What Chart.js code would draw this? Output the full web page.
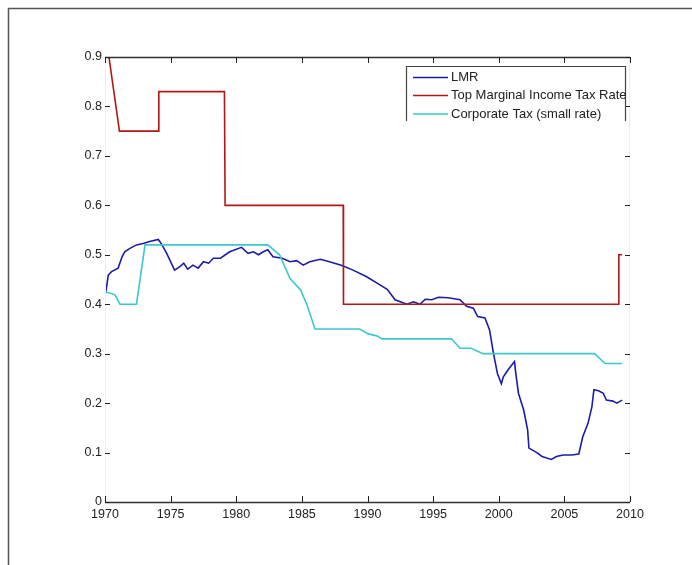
<!DOCTYPE html>
<html>
<head>
<meta charset="utf-8">
<script src="https://cdn.jsdelivr.net/npm/chart.js@4/dist/chart.umd.min.js"></script>
<style>
html,body{margin:0;padding:0;background:#fff;}
#wrap{position:relative;width:692px;height:565px;}
</style>
</head>
<body>
<div id="wrap"><canvas id="c" width="692" height="565"></canvas></div>
<script>
// ---- data ----
const seriesNames = ["LMR", "Top Marginal Income Tax Rate", "Corporate Tax (small rate)"];

const lmrYears = [1970.05,1970.25,1970.5,1971.0,1971.3,1971.5,1971.9,1972.4,1972.9,1973.4,1974.06,1974.3,1974.7,1975.3,1975.7,1976.0,1976.3,1976.7,1977.1,1977.5,1977.9,1978.25,1978.8,1979.5,1980.4,1980.9,1981.3,1981.7,1982.06,1982.4,1982.8,1983.5,1984.1,1984.6,1985.1,1985.6,1986.4,1987.1,1988.0,1988.9,1989.9,1990.95,1991.5,1992.1,1992.5,1993.0,1993.5,1994.0,1994.4,1994.9,1995.4,1996.15,1997.05,1997.55,1998.06,1998.4,1998.95,1999.3,1999.6,1999.9,2000.2,2000.35,2000.7,2001.2,2001.3,2001.5,2001.9,2002.2,2002.3,2002.9,2003.3,2004.0,2004.4,2004.9,2005.55,2006.1,2006.4,2006.8,2007.1,2007.25,2007.6,2007.96,2008.2,2008.7,2009.0,2009.4];
const lmrValues = [0.422,0.459,0.466,0.473,0.496,0.506,0.513,0.520,0.523,0.527,0.531,0.522,0.503,0.469,0.476,0.483,0.471,0.479,0.473,0.486,0.483,0.493,0.493,0.506,0.515,0.503,0.506,0.500,0.506,0.510,0.496,0.493,0.486,0.488,0.479,0.486,0.491,0.486,0.479,0.469,0.456,0.439,0.430,0.409,0.405,0.400,0.405,0.400,0.410,0.409,0.414,0.413,0.409,0.396,0.392,0.375,0.372,0.348,0.300,0.260,0.239,0.253,0.267,0.284,0.260,0.220,0.186,0.146,0.109,0.100,0.092,0.086,0.092,0.095,0.095,0.097,0.132,0.159,0.193,0.227,0.225,0.220,0.206,0.204,0.200,0.206];

const topYears  = [1970.3,1971.1,1974.1,1974.1,1979.1,1979.15,1988.15,1988.17,2009.1,2009.15,2009.4];
const topValues = [0.900,0.750,0.750,0.830,0.830,0.600,0.600,0.400,0.400,0.500,0.500];

const corpYears  = [1970.05,1970.76,1971.14,1972.4,1973.05,1982.4,1983.3,1984.1,1984.9,1985.4,1986.0,1989.4,1990.06,1990.7,1991.1,1996.4,1997.05,1997.9,1998.8,2007.3,2008.1,2009.4];
const corpValues = [0.425,0.419,0.400,0.400,0.520,0.520,0.500,0.452,0.429,0.398,0.350,0.350,0.340,0.336,0.330,0.330,0.311,0.311,0.300,0.300,0.280,0.280];

const xTickLabels = ["1970","1975","1980","1985","1990","1995","2000","2005","2010"];
const yTickLabels = ["0","0.1","0.2","0.3","0.4","0.5","0.6","0.7","0.8","0.9"];

const colors = ["#1c1ca8", "#b01818", "#3cc8cc"];

function pts(xs, ys){ return xs.map((x,i)=>({x:x, y:ys[i]})); }

const FONT = "Liberation Sans, Arial, sans-serif";

const framePlugin = {
  id: "framePlugin",
  afterDraw(chart){
    const ctx = chart.ctx;
    const a = chart.chartArea;
    const xs = chart.scales.x, ys = chart.scales.y;
    ctx.save();
    // outer figure frame (top and left visible)
    ctx.strokeStyle = "#555";
    ctx.lineWidth = 1.5;
    ctx.beginPath();
    ctx.moveTo(8.5, 565); ctx.lineTo(8.5, 8.5); ctx.lineTo(692, 8.5);
    ctx.stroke();
    // axes box: faint sides, dark top/bottom
    ctx.strokeStyle = "#eeeeee";
    ctx.lineWidth = 1;
    ctx.beginPath();
    ctx.moveTo(a.left+0.5, a.top); ctx.lineTo(a.left+0.5, a.bottom);
    ctx.moveTo(a.right-0.5, a.top); ctx.lineTo(a.right-0.5, a.bottom);
    ctx.stroke();
    ctx.strokeStyle = "#333";
    ctx.lineWidth = 1.3;
    ctx.beginPath();
    ctx.moveTo(a.left, a.top+0.5); ctx.lineTo(a.right, a.top+0.5);
    ctx.moveTo(a.left, a.bottom+0.5); ctx.lineTo(a.right, a.bottom+0.5);
    ctx.stroke();
    // inward ticks
    ctx.strokeStyle = "#222";
    ctx.lineWidth = 1;
    ctx.beginPath();
    xTickLabels.forEach(l=>{
      const px = Math.round(xs.getPixelForValue(+l))+0.5;
      ctx.moveTo(px, a.bottom); ctx.lineTo(px, a.bottom-6);
      ctx.moveTo(px, a.top); ctx.lineTo(px, a.top+6);
    });
    yTickLabels.forEach(l=>{
      const py = Math.round(ys.getPixelForValue(+l))+0.5;
      ctx.moveTo(a.left, py); ctx.lineTo(a.left+5, py);
      ctx.moveTo(a.right, py); ctx.lineTo(a.right-5, py);
    });
    ctx.stroke();
    // legend
    const L = 406, R = 626, T = 66, B = 121;
    ctx.fillStyle = "#fff";
    ctx.fillRect(L, T, R-L, B-T);
    ctx.strokeStyle = "#444";
    ctx.lineWidth = 1.2;
    ctx.beginPath();
    ctx.moveTo(L+0.5, B); ctx.lineTo(L+0.5, T+0.5); ctx.lineTo(R-0.5, T+0.5); ctx.lineTo(R-0.5, B);
    ctx.stroke();
    ctx.font = "13px " + FONT;
    ctx.textBaseline = "middle";
    ctx.textAlign = "left";
    const rowY = [77.5, 95.5, 114];
    chart.data.datasets.forEach((ds,i)=>{
      ctx.strokeStyle = ds.borderColor;
      ctx.lineWidth = 1.5;
      ctx.beginPath();
      ctx.moveTo(413, rowY[i]); ctx.lineTo(448, rowY[i]);
      ctx.stroke();
      ctx.fillStyle = "#222";
      ctx.fillText(ds.label, 451, rowY[i]);
    });
    ctx.restore();
  }
};

new Chart(document.getElementById("c"), {
  type: "line",
  data: {
    datasets: [
      {label: seriesNames[0], data: pts(lmrYears, lmrValues), borderColor: colors[0], borderWidth: 1.6, order: 2},
      {label: seriesNames[1], data: pts(topYears, topValues), borderColor: colors[1], borderWidth: 1.6, order: 1},
      {label: seriesNames[2], data: pts(corpYears, corpValues), borderColor: colors[2], borderWidth: 1.6, order: 0}
    ]
  },
  options: {
    responsive: false,
    animation: false,
    devicePixelRatio: 1,
    elements: { point: { radius: 0 }, line: { tension: 0, fill: false } },
    layout: { padding: { left: 0, top: 57, right: 62, bottom: 0 } },
    plugins: { legend: { display: false }, tooltip: { enabled: false } },
    scales: {
      x: {
        type: "linear", min: 1970, max: 2010,
        afterBuildTicks(s){ s.ticks = xTickLabels.map(v=>({value:+v})); },
        afterFit(s){ s.height = 63; },
        grid: { display: false, drawTicks: false },
        border: { display: false },
        ticks: {
          padding: 5, maxRotation: 0, autoSkip: false,
          font: { family: FONT, size: 12.5 }, color: "#222",
          callback: (v)=> String(v)
        }
      },
      y: {
        type: "linear", min: 0, max: 0.9,
        afterBuildTicks(s){ s.ticks = yTickLabels.map(v=>({value:+v})); },
        afterFit(s){ s.width = 105; },
        grid: { display: false, drawTicks: false },
        border: { display: false },
        ticks: {
          padding: 3, autoSkip: false,
          font: { family: FONT, size: 12.5 }, color: "#222",
          callback: (v)=> yTickLabels.find(l=>Math.abs(+l - v) < 1e-9) ?? String(v)
        }
      }
    }
  },
  plugins: [framePlugin]
});
</script>
</body>
</html>
